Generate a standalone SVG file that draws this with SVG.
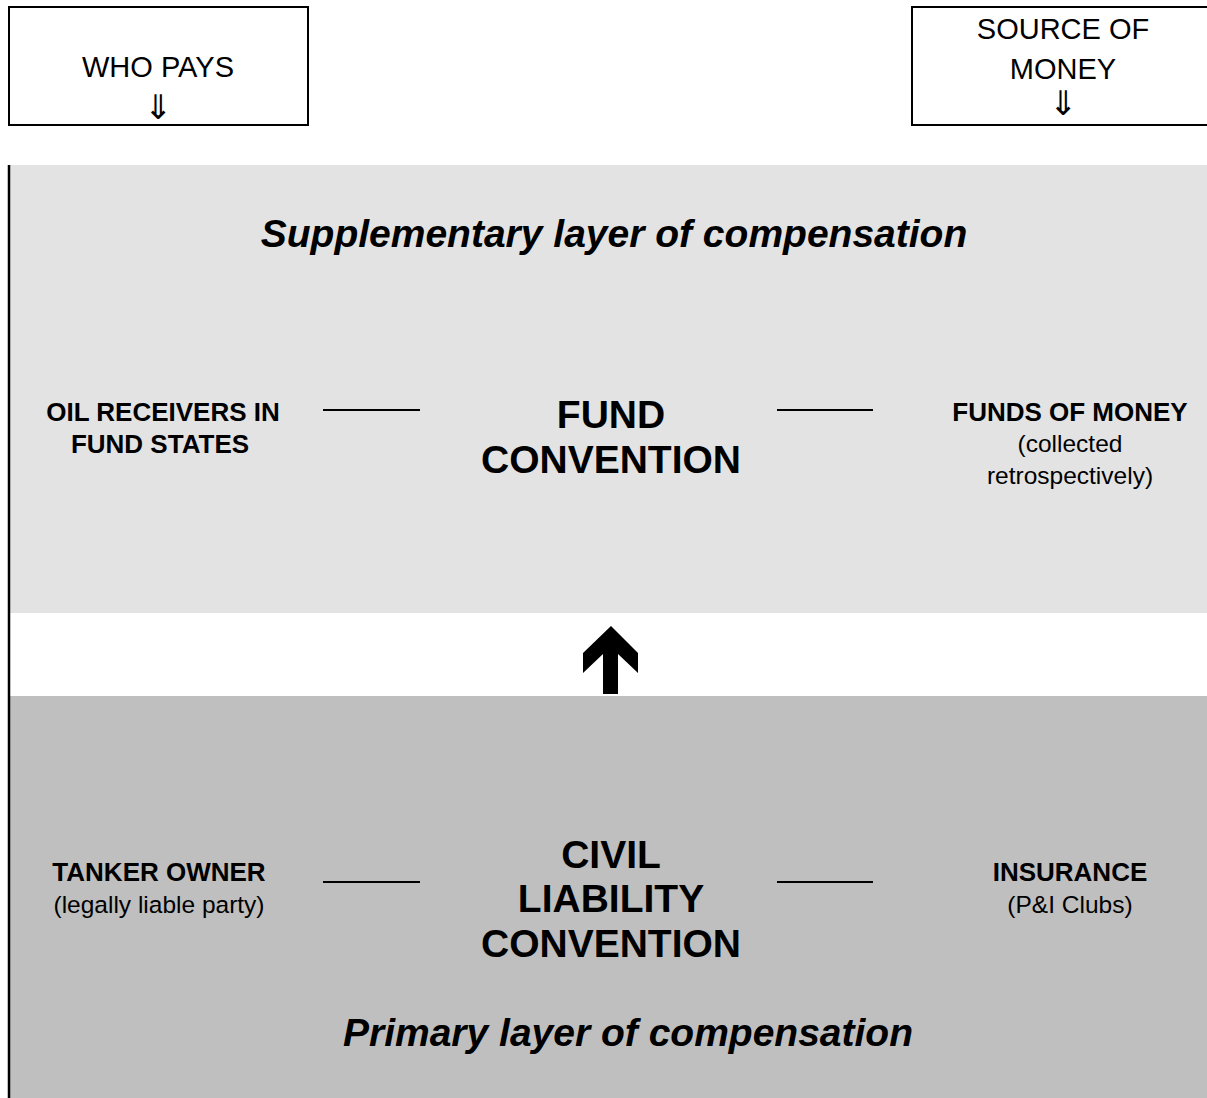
<svg xmlns="http://www.w3.org/2000/svg" width="1207" height="1098" viewBox="0 0 1207 1098">
<style>
.box{fill:#fff;stroke:#000;stroke-width:2}
.hdr{font-family:"Liberation Sans",Arial,sans-serif;font-size:29px;fill:#000;text-anchor:middle}
.arr{font-family:"DejaVu Sans",sans-serif;font-size:34px;fill:#000;text-anchor:middle}
.lbl{font-family:"Liberation Sans",Arial,sans-serif;font-size:26px;font-weight:bold;fill:#000;text-anchor:middle}
.sub{font-family:"Liberation Sans",Arial,sans-serif;font-size:24.5px;fill:#000;text-anchor:middle}
.conv{font-family:"Liberation Sans",Arial,sans-serif;font-size:39px;font-weight:bold;fill:#000;text-anchor:middle}
.layer{font-family:"Liberation Sans",Arial,sans-serif;font-size:39px;font-weight:bold;font-style:italic;fill:#000;text-anchor:middle}
.conn{stroke:#000;stroke-width:2;fill:none}
</style>
<rect x="0" y="0" width="1207" height="1098" fill="#fff"/>
<g id="bands">
<rect x="10" y="165" width="1197" height="448" fill="#e3e3e3"/>
<rect x="10" y="696" width="1197" height="402" fill="#bfbfbf"/>
<line x1="9" y1="165" x2="9" y2="1098" stroke="#000" stroke-width="2.5"/>
</g>
<g id="who-pays">
<rect class="box" x="9" y="7" width="299" height="118"/>
<text class="hdr" x="158" y="77">WHO PAYS</text>
<text class="arr" x="158" y="119">⇓</text>
</g>
<g id="source-of-money">
<rect class="box" x="912" y="7" width="310" height="118"/>
<text class="hdr" x="1063" y="39">SOURCE OF</text>
<text class="hdr" x="1063" y="79">MONEY</text>
<text class="arr" x="1063" y="115">⇓</text>
</g>
<g id="supplementary-title">
<text class="layer" x="614" y="247">Supplementary layer of compensation</text>
</g>
<g id="oil-receivers">
<text class="lbl" x="163" y="421">OIL RECEIVERS IN</text>
<text class="lbl" x="160" y="453">FUND STATES</text>
</g>
<g id="fund-convention">
<text class="conv" x="611" y="428">FUND</text>
<text class="conv" x="611" y="473">CONVENTION</text>
</g>
<g id="funds-of-money">
<text class="lbl" x="1070" y="421">FUNDS OF MONEY</text>
<text class="sub" x="1070" y="452">(collected</text>
<text class="sub" x="1070" y="484">retrospectively)</text>
</g>
<g id="tanker-owner">
<text class="lbl" x="159" y="881">TANKER OWNER</text>
<text class="sub" x="159" y="913">(legally liable party)</text>
</g>
<g id="clc">
<text class="conv" x="611" y="868">CIVIL</text>
<text class="conv" x="611" y="912">LIABILITY</text>
<text class="conv" x="611" y="957">CONVENTION</text>
</g>
<g id="insurance">
<text class="lbl" x="1070" y="881">INSURANCE</text>
<text class="sub" x="1070" y="913">(P&amp;I Clubs)</text>
</g>
<g id="primary-title">
<text class="layer" x="628" y="1046">Primary layer of compensation</text>
</g>
<g id="connectors">
<line class="conn" x1="323" y1="410" x2="420" y2="410"/>
<line class="conn" x1="777" y1="410" x2="873" y2="410"/>
<line class="conn" x1="323" y1="882" x2="420" y2="882"/>
<line class="conn" x1="777" y1="882" x2="873" y2="882"/>
<polygon points="611,626 638,653 638,673 618,654 618,694 603,694 603,654 583,673 583,653" fill="#000"/>
</g>
</svg>
